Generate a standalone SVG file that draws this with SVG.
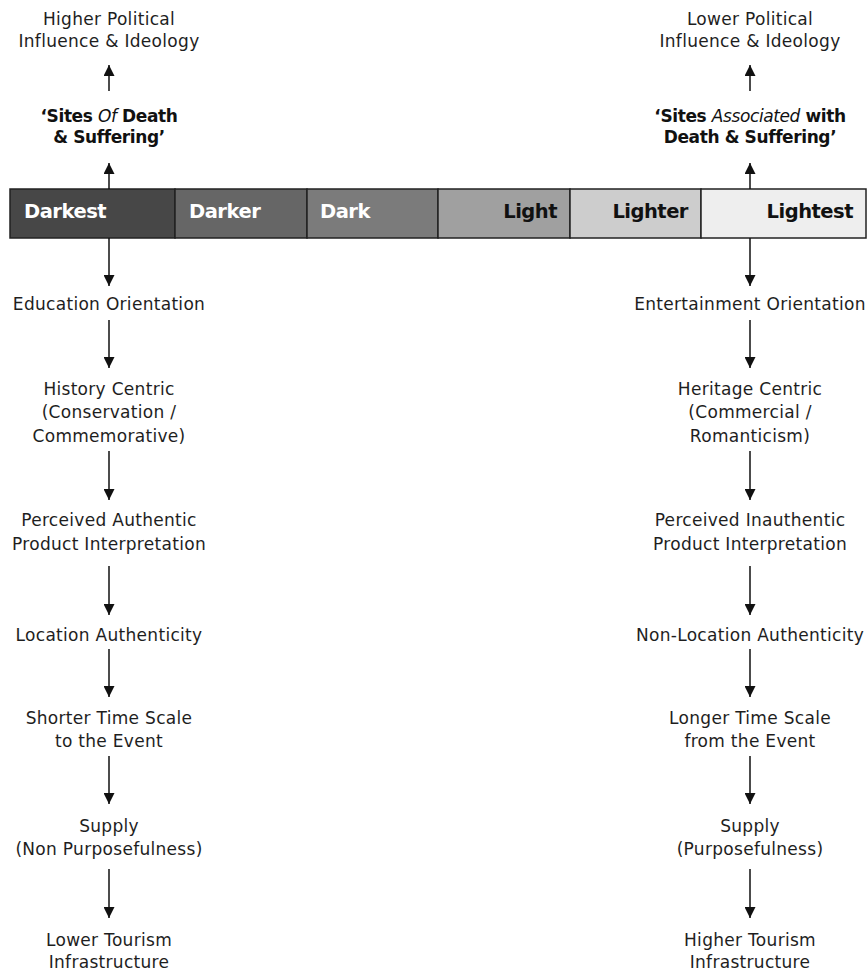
<svg xmlns="http://www.w3.org/2000/svg" width="868" height="974" viewBox="0 0 868 974">
<style>
.t{font-family:"DejaVu Sans","Liberation Sans",sans-serif;font-size:17px;letter-spacing:0.3px;fill:#1e1e1e;text-anchor:middle}
.h{font-family:"DejaVu Sans","Liberation Sans",sans-serif;font-size:17px;font-weight:bold;letter-spacing:-0.4px;fill:#111;text-anchor:middle}
.b{font-family:"DejaVu Sans","Liberation Sans",sans-serif;font-size:19.5px;font-weight:bold;letter-spacing:-0.5px}
.w{fill:#fff}
.k{fill:#111}
.seg{stroke:#222;stroke-width:1.5}
.c{stroke:#111;stroke-width:1.5;fill:none;marker-end:url(#ah)}
</style>
<defs>
<marker id="ah" markerUnits="userSpaceOnUse" markerWidth="11" markerHeight="11" refX="11" refY="5.5" orient="auto">
<path d="M0,0 L11,5.5 L0,11 Z" fill="#111"/>
</marker>
</defs>
<rect width="868" height="974" fill="#fff"/>

<g id="bar">
<rect class="seg" x="10" y="189" width="165" height="49" fill="#474747"/>
<rect class="seg" x="175" y="189" width="132" height="49" fill="#666666"/>
<rect class="seg" x="307" y="189" width="131" height="49" fill="#7b7b7b"/>
<rect class="seg" x="438" y="189" width="132" height="49" fill="#a0a0a0"/>
<rect class="seg" x="570" y="189" width="131" height="49" fill="#cdcdcd"/>
<rect class="seg" x="701" y="189" width="165" height="49" fill="#eeeeee"/>
<text class="b w" x="24" y="218">Darkest</text>
<text class="b w" x="189" y="218">Darker</text>
<text class="b w" x="320" y="218">Dark</text>
<text class="b k" x="557" y="218" text-anchor="end">Light</text>
<text class="b k" x="688" y="218" text-anchor="end">Lighter</text>
<text class="b k" x="853" y="218" text-anchor="end">Lightest</text>
</g>

<g id="connectors">
<line class="c" x1="109" y1="91" x2="109" y2="65"/>
<line class="c" x1="109" y1="189" x2="109" y2="163"/>
<line class="c" x1="109" y1="238" x2="109" y2="286"/>
<line class="c" x1="109" y1="320" x2="109" y2="368"/>
<line class="c" x1="109" y1="451" x2="109" y2="500"/>
<line class="c" x1="109" y1="566" x2="109" y2="615"/>
<line class="c" x1="109" y1="649" x2="109" y2="697"/>
<line class="c" x1="109" y1="756" x2="109" y2="804"/>
<line class="c" x1="109" y1="869" x2="109" y2="918"/>
<line class="c" x1="750" y1="91" x2="750" y2="65"/>
<line class="c" x1="750" y1="189" x2="750" y2="163"/>
<line class="c" x1="750" y1="238" x2="750" y2="286"/>
<line class="c" x1="750" y1="320" x2="750" y2="368"/>
<line class="c" x1="750" y1="451" x2="750" y2="500"/>
<line class="c" x1="750" y1="566" x2="750" y2="615"/>
<line class="c" x1="750" y1="649" x2="750" y2="697"/>
<line class="c" x1="750" y1="756" x2="750" y2="804"/>
<line class="c" x1="750" y1="869" x2="750" y2="918"/>
</g>

<g id="l-political"><text class="t" x="109" y="25">Higher Political</text><text class="t" x="109" y="47">Influence &amp; Ideology</text></g>
<g id="l-sites"><text class="h" x="109" y="122">‘Sites <tspan font-style="italic" font-weight="normal">Of</tspan> Death</text><text class="h" x="109" y="143">&amp; Suffering’</text></g>
<g id="l-education"><text class="t" x="109" y="310">Education Orientation</text></g>
<g id="l-history"><text class="t" x="109" y="395">History Centric</text><text class="t" x="109" y="418">(Conservation /</text><text class="t" x="109" y="442">Commemorative)</text></g>
<g id="l-perceived"><text class="t" x="109" y="526">Perceived Authentic</text><text class="t" x="109" y="550">Product Interpretation</text></g>
<g id="l-location"><text class="t" x="109" y="641">Location Authenticity</text></g>
<g id="l-time"><text class="t" x="109" y="724">Shorter Time Scale</text><text class="t" x="109" y="747">to the Event</text></g>
<g id="l-supply"><text class="t" x="109" y="832">Supply</text><text class="t" x="109" y="855">(Non Purposefulness)</text></g>
<g id="l-infra"><text class="t" x="109" y="946">Lower Tourism</text><text class="t" x="109" y="968">Infrastructure</text></g>

<g id="r-political"><text class="t" x="750" y="25">Lower Political</text><text class="t" x="750" y="47">Influence &amp; Ideology</text></g>
<g id="r-sites"><text class="h" x="750" y="122">‘Sites <tspan font-style="italic" font-weight="normal">Associated</tspan> with</text><text class="h" x="750" y="143">Death &amp; Suffering’</text></g>
<g id="r-entertainment"><text class="t" x="750" y="310">Entertainment Orientation</text></g>
<g id="r-heritage"><text class="t" x="750" y="395">Heritage Centric</text><text class="t" x="750" y="418">(Commercial /</text><text class="t" x="750" y="442">Romanticism)</text></g>
<g id="r-perceived"><text class="t" x="750" y="526">Perceived Inauthentic</text><text class="t" x="750" y="550">Product Interpretation</text></g>
<g id="r-location"><text class="t" x="750" y="641">Non-Location Authenticity</text></g>
<g id="r-time"><text class="t" x="750" y="724">Longer Time Scale</text><text class="t" x="750" y="747">from the Event</text></g>
<g id="r-supply"><text class="t" x="750" y="832">Supply</text><text class="t" x="750" y="855">(Purposefulness)</text></g>
<g id="r-infra"><text class="t" x="750" y="946">Higher Tourism</text><text class="t" x="750" y="968">Infrastructure</text></g>
</svg>
